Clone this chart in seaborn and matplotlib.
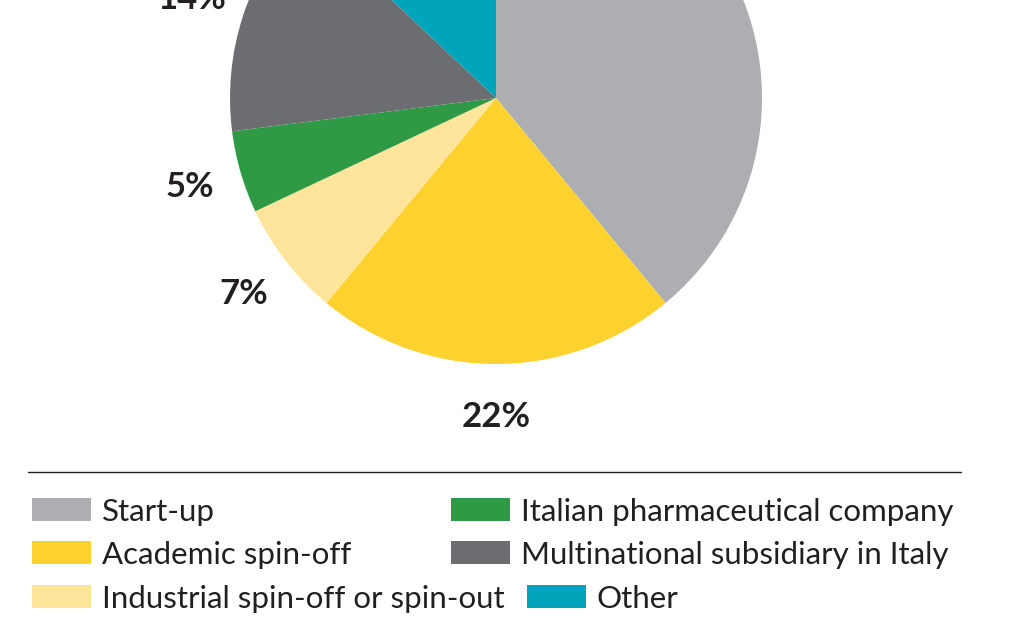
import matplotlib
matplotlib.use("Agg")
import matplotlib.pyplot as plt
import matplotlib.patches as mpatches
from matplotlib.lines import Line2D
import seaborn as sns

# data (clockwise from 12 o'clock)
categories = ["Start-up", "Academic spin-off", "Industrial spin-off or spin-out",
              "Italian pharmaceutical company", "Multinational subsidiary in Italy", "Other"]
shares = [39, 22, 7, 5, 14, 13]
colors = ["#ADAEB1", "#FDD22F", "#FEE59B", "#2F9A45", "#6C6D70", "#00A5BB"]

sns.set_theme(style="white")
plt.rcParams["font.family"] = ["Lato", "DejaVu Sans"]

W, H = 1029, 641
fig = plt.figure(figsize=(W / 100, H / 100), dpi=100)

# pie axes: centre (496, 98) px, radius 266 px -> partly above the figure top
cx, cy, r = 496, 98, 266
ax = fig.add_axes([(cx - r) / W, (H - cy - r) / H, 2 * r / W, 2 * r / H])
wedges, texts, autotexts = ax.pie(
    shares, colors=colors, startangle=90, counterclock=False,
    autopct=lambda p: f"{p:.0f}%", pctdistance=1.2,
    wedgeprops=dict(linewidth=0),
    textprops=dict(fontsize=25, fontweight="bold", color="#231F20"),
)
for t in autotexts:
    t.set_clip_on(False)
# the start-up label sits further out, beyond the visible crop
x0, y0 = autotexts[0].get_position()
autotexts[0].set_position((x0 * 1.6, y0 * 1.6))
ax.set_xlim(-1, 1)
ax.set_ylim(-1, 1)
ax.set_aspect("equal")
ax.axis("off")

# separator line
fig.add_artist(Line2D([28 / W, 961 / W], [1 - 472 / H, 1 - 472 / H],
                      color="#231F20", linewidth=1.0, transform=fig.transFigure))

# legend laid out like the original (flowing rows)
slots = [(32, 0), (451, 0), (32, 1), (451, 1), (32, 2), (527, 2)]
order = [0, 3, 1, 4, 2, 5]
row_top = [498, 541, 585]
for (x, row), i in zip(slots, order):
    top = row_top[row]
    fig.add_artist(mpatches.Rectangle((x / W, 1 - (top + 23) / H), 59 / W, 23 / H,
                                      facecolor=colors[i], edgecolor="none",
                                      transform=fig.transFigure))
    fig.text((x + 70) / W, 1 - (top + 23) / H, categories[i], fontsize=22.5,
             fontweight="normal", color="#231F20", va="baseline", ha="left")

fig.savefig("out.png", dpi=100)
